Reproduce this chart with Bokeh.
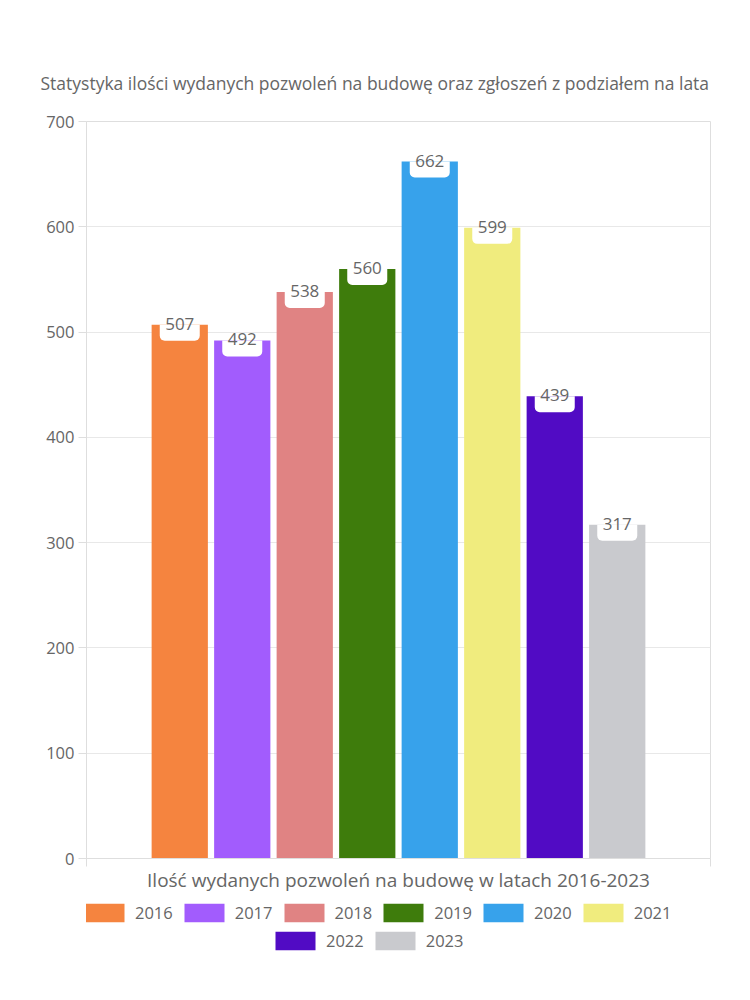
from bokeh.plotting import figure
from bokeh.layouts import column
from bokeh.models import (Range1d, FixedTicker, Legend, LegendItem, ColumnDataSource)
from bokeh.transform import dodge
from bokeh.core.properties import value
from bokeh.embed import file_html
from bokeh.resources import INLINE

years = ["2016", "2017", "2018", "2019", "2020", "2021", "2022", "2023"]
counts = [507, 492, 538, 560, 662, 599, 439, 317]
colors = ["#F5843F", "#A25CFD", "#E08383", "#3E7C0C", "#37A2EB", "#F0EC7E", "#510BC4", "#C9CACE"]
y_ticks = [0, 100, 200, 300, 400, 500, 600, 700]

FONT = "Open Sans"
GRAY = "#666666"
LINE = "#dedede"

pos = list(range(len(years)))
src = ColumnDataSource(dict(pos=pos, year=years, count=counts, color=colors,
                            label=[str(c) for c in counts]))

PAD = 0.992
x0, x1 = -0.5 - PAD, len(years) - 0.5 + PAD

p = figure(width=750, height=900, output_backend="svg", toolbar_location=None,
           x_range=Range1d(x0, x1), y_range=Range1d(0, 700),
           min_border_left=86, min_border_right=40, min_border_top=121, min_border_bottom=42)

p.title.text = "Statystyka ilości wydanych pozwoleń na budowę oraz zgłoszeń z podziałem na lata"
p.title.align = "left"
p.title.offset = -46
p.title.text_font = FONT
p.title.text_font_size = "17.5px"
p.title.text_font_style = "normal"
p.title.text_color = GRAY
p.title.standoff = 53

p.outline_line_color = LINE
p.xgrid.visible = False
p.ygrid.grid_line_color = "#e8e8e8"

ya = p.yaxis[0]
ya.ticker = FixedTicker(ticks=y_ticks)
ya.axis_line_color = LINE
ya.major_tick_line_color = LINE
ya.major_tick_out = 8
ya.major_tick_in = 0
ya.minor_tick_line_color = None
ya.major_label_text_font = FONT
ya.major_label_text_font_size = "16.5px"
ya.major_label_text_color = GRAY
ya.major_label_standoff = 4

xa = p.xaxis[0]
xa.ticker = FixedTicker(ticks=[x0, x1])
xa.major_label_overrides = {x0: "", x1: ""}
xa.axis_line_color = LINE
xa.major_tick_line_color = LINE
xa.major_tick_out = 8
xa.major_tick_in = 0
xa.minor_tick_line_color = None
xa.major_label_text_font_size = "1px"
xa.major_label_standoff = 0
xa.axis_label = "Ilość wydanych pozwoleń na budowę w latach 2016-2023"
xa.axis_label_text_font = FONT
xa.axis_label_text_font_size = "19px"
xa.axis_label_text_font_style = "normal"
xa.axis_label_text_color = GRAY
xa.axis_label_standoff = 0

p.vbar(x="pos", top="count", width=0.9, source=src, fill_color="color", line_color=None)

p.rect(x="pos", y=dodge("count", -7.6, range=p.y_range), width=40, height=15.2,
       width_units="screen", source=src, fill_color="white", line_color=None,
       border_radius=(0, 0, 5, 5))
p.text(x="pos", y="count", text="label", source=src, text_font=value(FONT),
       text_font_size="17px", text_color=GRAY, text_align="center", text_baseline="middle",
       y_offset=-1)

# legend strip below the chart (its bars lie outside its visible range)
lp = figure(width=750, height=100, output_backend="svg", toolbar_location=None,
            x_range=Range1d(x0, x1), y_range=Range1d(1000, 1001),
            x_axis_type=None, y_axis_type=None, min_border=0)
lp.outline_line_color = None
lp.grid.visible = False
lbars = lp.vbar(x="pos", top="count", width=0.9, source=src, fill_color="color", line_color=None)

items1 = [LegendItem(label=years[i], renderers=[lbars], index=i) for i in range(6)]
items2 = [LegendItem(label=years[i], renderers=[lbars], index=i) for i in range(6, 8)]
for items, loc in ((items1, (-7, 76)), (items2, (184, 48))):
    lg = Legend(items=items, orientation="horizontal", location=loc,
                glyph_width=50, glyph_height=23, label_standoff=6, spacing=6,
                label_text_font=FONT, label_text_font_size="16.5px", label_text_color=GRAY,
                padding=0, margin=0, border_line_color=None, background_fill_alpha=0)
    lp.add_layout(lg, "center")

layout = column(p, lp, spacing=0)
open("out.html", "w").write(file_html(layout, INLINE))
